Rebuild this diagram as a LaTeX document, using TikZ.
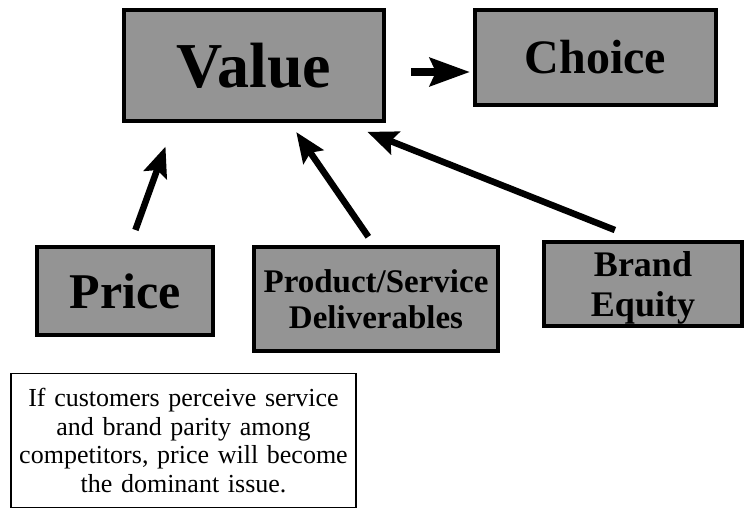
\documentclass[tikz,border=0pt]{standalone}
\usepackage{fontspec}
\setmainfont{Liberation Serif}
\usetikzlibrary{arrows.meta,positioning}

\tikzset{
  block/.style={draw=black, line width=4pt, fill=black!42, inner sep=0pt, align=center},
  note/.style={draw=black, line width=1.2pt, fill=white, inner sep=0pt, align=center},
  bigarrow/.style={line width=6.5pt, -{Stealth[length=30pt,width=24pt,inset=5pt]}},
}

\begin{document}
\begin{tikzpicture}[x=1pt,y=-1pt]
    \useasboundingbox (0,0) rectangle (745,511);
    % top row
    \node[block, minimum width=260pt, minimum height=111pt,
          font=\bfseries\fontsize{64}{64}\selectfont] (value) at (254,65.5) {Value};
    \node[block, minimum width=241pt, minimum height=95pt,
          font=\bfseries\fontsize{48}{48}\selectfont] (choice) at (595.5,57.5) {Choice};
    % bottom row
    \node[block, minimum width=176pt, minimum height=88pt,
          font=\bfseries\fontsize{50}{50}\selectfont] (price) at (125,291) {Price};
    \node[block, minimum width=244pt, minimum height=104pt,
          font=\bfseries\fontsize{33}{36}\selectfont] (product) at (376,299) {Product/Service\\Deliverables};
    \node[block, minimum width=198pt, minimum height=84pt,
          font=\fontsize{36}{40}\selectfont\bfseries] (brand) at (643,284) {\\[-8pt]Brand\\Equity};
    % remark under the price box
    \node[note, minimum width=345pt, minimum height=134pt, text width=340pt,
          font=\fontsize{26}{28.5}\selectfont] (remark) at (183.5,440.5)
          {If customers perceive service\\and brand parity among\\competitors, price will become\\the dominant issue.};

    \draw[bigarrow, line width=8pt, -{Stealth[length=40pt,width=28pt,inset=6pt]}, shorten <=25pt, shorten >=3pt]
        ([yshift=-6.5pt]value.east) -- ([yshift=-6.5pt]value.east -| choice.west);
    \draw[bigarrow, shorten <=16pt, shorten >=25pt]
        ([xshift=5pt]price.north) -- ([xshift=-80pt]value.south);
    \draw[bigarrow, shorten <=10pt, shorten >=11pt]
        ([xshift=-2pt]product.north) -- ([xshift=36pt]value.south);
    \draw[bigarrow, shorten <=27pt, shorten >=24pt]
        ([xshift=-3pt]brand.north) -- ([xshift=-41pt]value.south east);
\end{tikzpicture}
\end{document}
